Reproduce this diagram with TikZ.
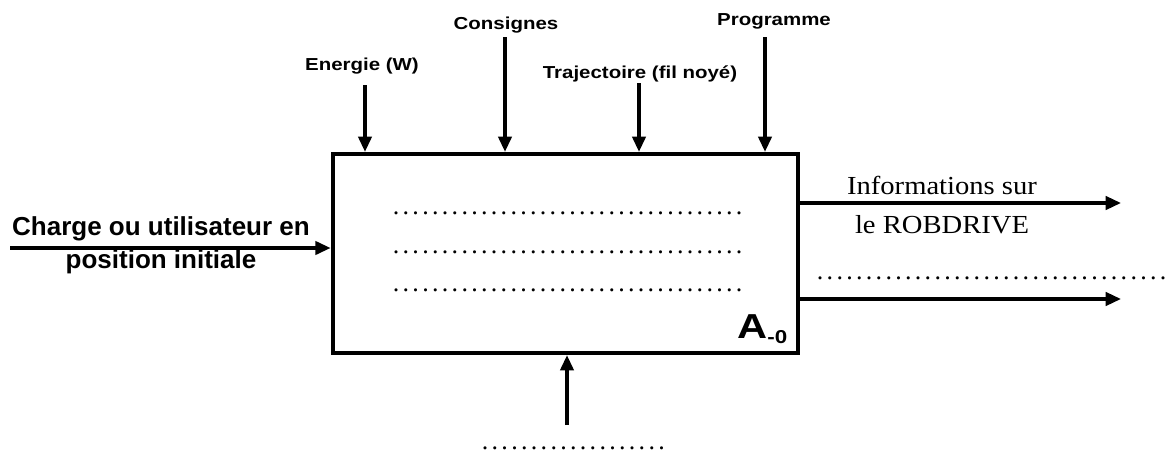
\documentclass[tikz,border=0pt]{standalone}
\usepackage{fontspec}
\setmainfont{Liberation Serif}
\setsansfont{Liberation Sans}
\usetikzlibrary{arrows.meta}

% ligne de points (nombre de points)
\newcommand{\pointilles}[1]{\hbox to #1\dimexpr 7.35pt\relax{\leaders\hbox to 7.35pt{\hss.\hss}\hfill}}

\tikzset{
  fleche/.style={line width=2.5pt, -{Triangle[length=11.5pt,width=10pt]}},
  etiquette/.style={font=\sffamily\bfseries\fontsize{13}{15}\selectfont, inner sep=0pt, anchor=base, xscale=1.18, transform shape},
  entree/.style={font=\sffamily\bfseries\fontsize{19.5}{24.75}\selectfont, inner sep=0pt, align=center},
  texte/.style={font=\rmfamily\fontsize{19.5}{29.25}\selectfont, inner sep=0pt, align=center, xscale=1.1, transform shape},
  pointille/.style={font=\rmfamily\fontsize{19.5}{20}\selectfont, inner sep=0pt, anchor=base west},
}

\begin{document}
\begin{tikzpicture}[x=0.75pt, y=-0.75pt]
    \useasboundingbox (0,0) rectangle (1165,454);

    % boite A-0
    \node[draw, line width=3.2pt, minimum width=348.75pt, minimum height=149.25pt, inner sep=0pt] (fonction) at (565.25,253.5) {};
    \node[font=\sffamily\bfseries\fontsize{26}{26}\selectfont, inner sep=0pt, anchor=base west, xscale=1.2, transform shape] (nom) at (737,338)
        {A\raisebox{-3.75pt}{\fontsize{14}{14}\selectfont -0}};

    \node[pointille] (ligne1) at (391,214.5) {\pointilles{36}};
    \node[pointille] (ligne2) at (391,253.5) {\pointilles{36}};
    \node[pointille] (ligne3) at (391,291.5) {\pointilles{36}};

    % entrees de controle
    \node[etiquette] (energie) at (362,70) {Energie (W)};
    \node[etiquette] (consignes) at (506,29) {Consignes};
    \node[etiquette] (trajectoire) at (640,78) {Trajectoire (fil noyé)};
    \node[etiquette] (programme) at (774,25) {Programme};

    \coordinate (energie-pt) at (365,85);
    \coordinate (consignes-pt) at (505,37);
    \coordinate (trajectoire-pt) at (639,83);
    \coordinate (programme-pt) at (765,37);
    \foreach \c in {energie-pt,consignes-pt,trajectoire-pt,programme-pt} {
        \draw[fleche] (\c) -- (\c |- fonction.north);
    }

    % entree
    \node[entree] (charge) at (161,245) {Charge ou utilisateur en\\position initiale};
    \coordinate (entree-pt) at (10,248);
    \draw[fleche] (entree-pt) -- (entree-pt -| fonction.west);

    % sorties
    \coordinate (sortie1) at (1121,203);
    \coordinate (sortie2) at (1121,299);
    \draw[fleche] (fonction.east |- sortie1) -- (sortie1);
    \draw[fleche] (fonction.east |- sortie2) -- (sortie2);
    \node[texte] (infos) at (942,205.5) {Informations sur\\le ROBDRIVE};
    \node[pointille] (ligne4) at (815,279.5) {\pointilles{36}};

    % support
    \coordinate (support) at (567,425);
    \draw[fleche] (support) -- (support |- fonction.south);
    \node[pointille] (ligne5) at (480,449.5) {\pointilles{19}};
\end{tikzpicture}
\end{document}
